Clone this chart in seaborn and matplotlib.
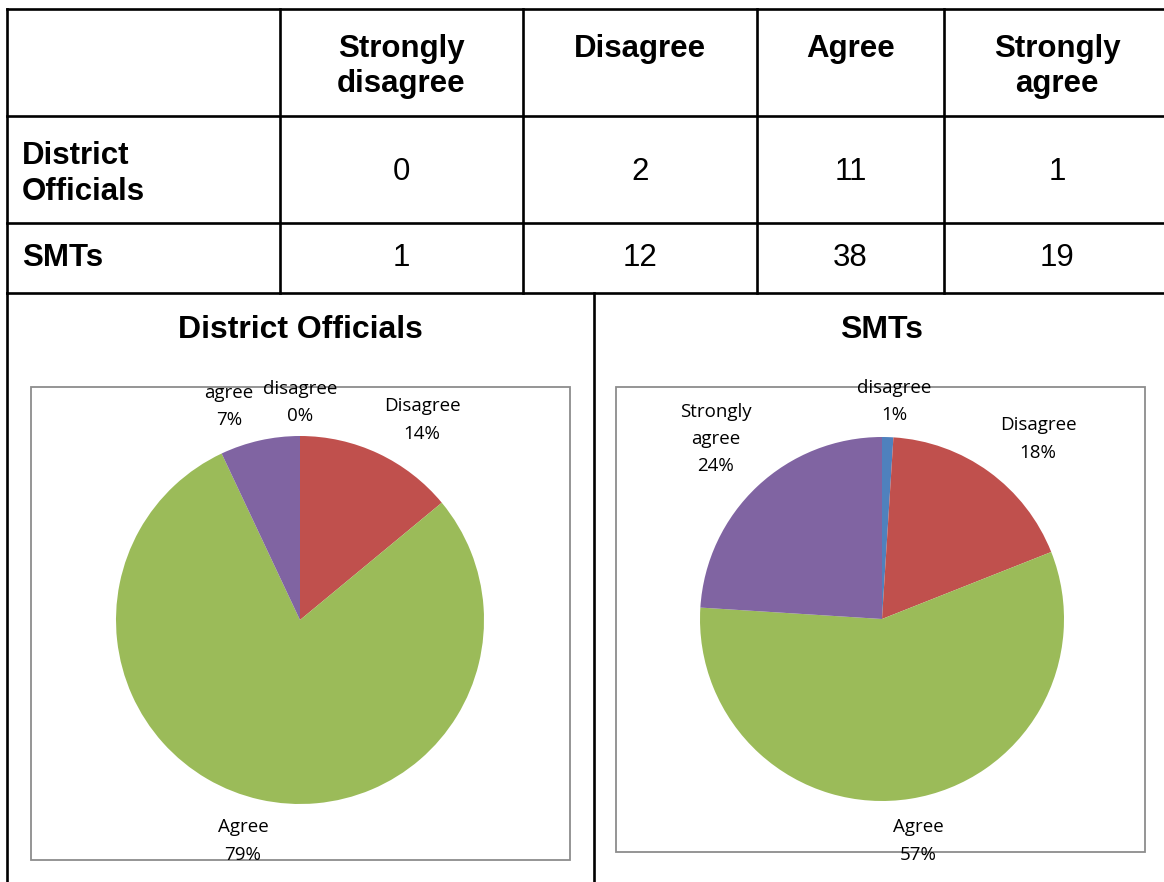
import seaborn as sns
import matplotlib.pyplot as plt
from matplotlib.patches import Rectangle
from matplotlib.transforms import Bbox, TransformedBbox

# table data
header_labels = ["Strongly\ndisagree", "Disagree", "Agree", "Strongly\nagree"]
groups = ["District\nOfficials", "SMTs"]
district_counts = [0, 2, 11, 1]
smt_counts = [1, 12, 38, 19]

# pie data (percentages as printed on the pies)
pie_names = ["Strongly\ndisagree", "Disagree", "Agree", "Strongly\nagree"]
district_pct = [0, 14, 79, 7]
smt_pct = [1, 18, 57, 24]

W, H = 1164, 882

sns.set_theme(style="white")
plt.rcParams["font.family"] = ["Liberation Sans", "DejaVu Sans"]
plt.rcParams["text.color"] = "black"
colors = sns.color_palette(["#4F81BD", "#C0504D", "#9BBB59", "#8064A2"])

fig = plt.figure(figsize=(W / 100, H / 100), dpi=100)
fig.patch.set_facecolor("white")
base = fig.add_axes([0, 0, 1, 1])
base.set_xlim(0, W)
base.set_ylim(H, 0)
base.axis("off")

# ---- table ----
col_edges = [7, 280, 523, 757, 944, 1170]
row_edges = [9, 116, 223, 293]
line_kw = dict(color="black", lw=1.9, solid_capstyle="projecting")
for y in row_edges:
    base.plot([7, W], [y, y], **line_kw)
for x in col_edges[:-1]:
    base.plot([x, x], [9, 293], **line_kw)
base.plot([7, 7], [293, H + 5], **line_kw)
base.plot([594, 594], [293, H + 5], **line_kw)

fs = 22.5
centers = [(col_edges[i] + col_edges[i + 1]) / 2 for i in range(1, 5)]
for cx, lab in zip(centers, header_labels):
    base.text(cx, 34, lab, ha="center", va="top", fontsize=fs,
              fontweight="bold", linespacing=1.2)

row_y = [172, 258]
for i, (ry, grp, vals) in enumerate(zip(row_y, groups, [district_counts, smt_counts])):
    base.text(22, ry + (2 if i == 0 else 0), grp, ha="left", va="center",
              fontsize=fs, fontweight="bold", linespacing=1.24)
    for cx, v in zip(centers, vals):
        base.text(cx, ry, str(v), ha="center", va="center", fontsize=fs)


# ---- pies ----
def draw_pie(title, tx, box, cx, cy, r, pct, label_xy):
    base.text(tx, 330, title, ha="center", va="center", fontsize=23,
              fontweight="bold")
    x0, y0, x1, y1 = box
    base.add_patch(Rectangle((x0, y0), x1 - x0, y1 - y0, fill=False,
                             ec="#8c8c8c", lw=1.3, zorder=3))
    ax = fig.add_axes([(cx - r) / W, (H - cy - r) / H, 2 * r / W, 2 * r / H])
    ax.pie(pct, colors=colors, startangle=90, counterclock=False,
           wedgeprops=dict(linewidth=0))
    ax.set_xlim(-1, 1)
    ax.set_ylim(-1, 1)
    ax.axis("off")
    clip = TransformedBbox(Bbox.from_extents(x0 / W, 0, x1 / W, (H - 376) / H),
                           fig.transFigure)
    for (lx, ly), name, p in zip(label_xy, pie_names, pct):
        t = base.text(lx, ly, f"{name}\n{p}%", ha="center", va="center",
                      fontsize=13.5, family="Open Sans", linespacing=1.65,
                      color="black", clip_on=True)
        t.set_clip_box(clip)


draw_pie("District Officials", 300, (31, 387, 570, 860), 300, 620, 184,
         district_pct, [(300, 389), (422, 420), (243, 841), (229, 393)])
draw_pie("SMTs", 882, (616, 387, 1145, 852), 882, 619, 182,
         smt_pct, [(894, 388), (1038, 439), (918, 841), (716, 439)])

fig.savefig("out.png", dpi=100, facecolor="white")
